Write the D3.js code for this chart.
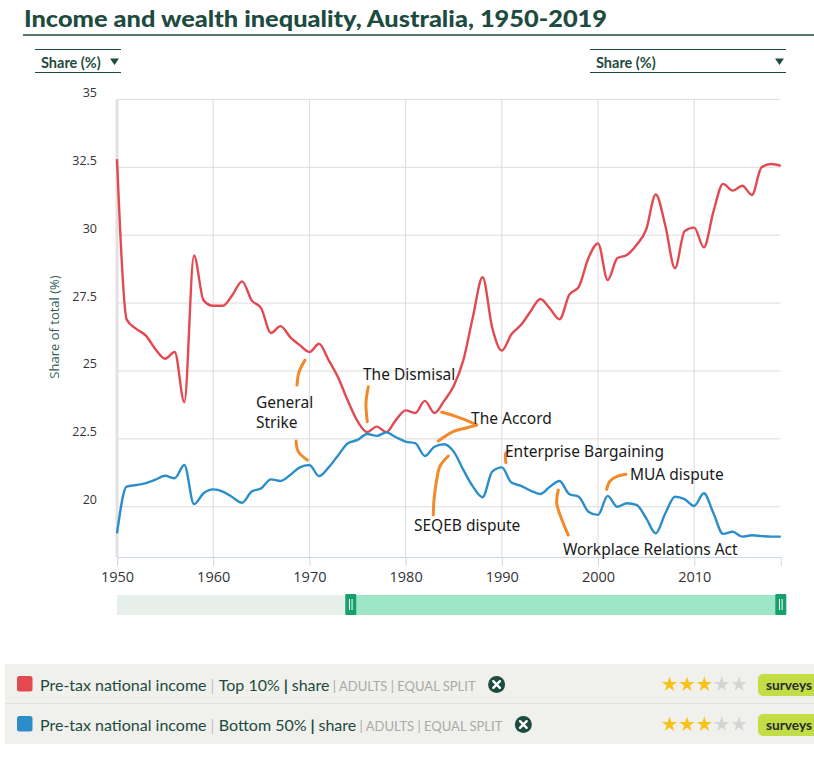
<!DOCTYPE html>
<html><head><meta charset="utf-8">
<script src="https://cdn.jsdelivr.net/npm/d3@7"></script>
<style>body{margin:0;background:#fff;} svg{display:block;}</style>
</head><body><svg id="c" width="814" height="770"></svg>
<script>
// ---------- DATA ----------
const years = d3.range(1950, 2020);
const top10 = [32.8,26.9,26.55,26.3,25.8,25.45,25.7,23.85,29.25,27.6,
  27.4,27.4,27.8,28.3,27.6,27.3,26.4,26.65,26.25,25.95,
  25.7,26.0,25.4,24.75,23.9,23.15,22.75,22.95,22.75,23.2,
  23.55,23.45,23.9,23.45,23.9,24.45,25.4,27.0,28.45,26.6,
  25.75,26.35,26.7,27.2,27.65,27.3,26.9,27.8,28.1,29.15,
  29.7,28.35,29.15,29.27,29.64,30.2,31.5,30.35,28.78,30.15,
  30.28,29.55,30.87,31.89,31.64,31.82,31.48,32.5,32.62,32.55];
const bottom50 = [19.02,20.74,20.8,20.87,21.0,21.14,21.05,21.54,20.1,20.5,
  20.64,20.56,20.35,20.15,20.56,20.68,21.01,20.95,21.17,21.45,
  21.54,21.13,21.45,21.9,22.34,22.46,22.68,22.61,22.74,22.56,
  22.4,22.34,21.87,22.21,22.3,22.03,21.36,20.74,20.35,21.29,
  21.45,20.89,20.77,20.59,20.47,20.74,20.95,20.47,20.37,19.82,
  19.7,20.4,20.0,20.13,20.07,19.58,19.02,19.76,20.37,20.28,
  20.03,20.5,19.76,19.0,19.08,18.9,18.95,18.92,18.9,18.9];
const yTicks = [20, 22.5, 25, 27.5, 30, 32.5, 35];
const xTicks = [1950, 1960, 1970, 1980, 1990, 2000, 2010];
const seriesMain = ["Pre-tax national income", "Pre-tax national income"];
const seriesGroup = ["Top 10%", "Bottom 50%"];
const seriesTail = ["ADULTS", "EQUAL SPLIT"];
const seriesStars = [3, 3];
const titleText = "Income and wealth inequality, Australia, 1950-2019";
const yTitle = "Share of total (%)";
const unitLabel = "Share (%)";
const sliderRange = [1974.3, 2019];
// annotation labels & hand-drawn strokes, in (year, value) units
const annoLabels = [
  {lines:["General","Strike"], year:1964.45, value:23.64},
  {lines:["The Dismisal"], year:1975.57, value:24.67},
  {lines:["The Accord"], year:1986.8, value:23.04},
  {lines:["SEQEB dispute"], year:1980.87, value:19.11},
  {lines:["Enterprise Bargaining"], year:1990.33, value:21.83},
  {lines:["Workplace Relations Act"], year:1996.36, value:18.23},
  {lines:["MUA dispute"], year:2003.33, value:20.99}
];
const annoStrokes = [
  [[1968.71,24.48],[1968.92,24.96],[1969.54,25.40]],
  [[1968.61,22.42],[1968.85,22.03],[1969.78,21.72]],
  [[1976.12,24.42],[1975.88,23.81],[1976.02,23.13]],
  [[1983.75,23.48],[1985.14,23.34],[1986.70,23.13],[1987.39,23.01]],
  [[1983.40,22.42],[1984.93,22.77],[1986.28,22.90],[1987.39,23.01]],
  [[1984.44,21.87],[1983.58,21.50],[1983.23,20.99],[1982.95,20.25],[1982.88,19.70]],
  [[1990.73,22.04],[1990.42,21.98],[1990.42,21.63]],
  [[1995.87,20.62],[1995.71,20.13],[1996.39,19.39],[1996.91,18.96]],
  [[2000.90,20.64],[2001.25,20.95],[2001.98,21.12],[2002.91,21.20]]
];

// ---------- STYLE ----------
const GREEN = "#1e4b40", RED = "#e24950", BLUE = "#2b8ecb", ORANGE = "#f2892a";
const svg = d3.select("#c");
svg.append("rect").attr("width",814).attr("height",770).attr("fill","#fff");

// title
svg.append("text").attr("x",24).attr("y",26.5).text(titleText)
  .attr("font-family","Lato").attr("font-weight",900).attr("font-size",23.5)
  .attr("fill",GREEN).attr("textLength",583).attr("lengthAdjust","spacingAndGlyphs");
svg.append("line").attr("x1",23).attr("x2",814).attr("y1",35).attr("y2",35)
  .attr("stroke",GREEN).attr("stroke-width",1.5);

// dropdowns
function dropdown(x1, x2) {
  const g = svg.append("g");
  [49.5, 72.5].forEach(y => g.append("line").attr("x1",x1).attr("x2",x2).attr("y1",y).attr("y2",y)
    .attr("stroke",GREEN).attr("stroke-width",1));
  g.append("text").attr("x",x1+6).attr("y",68).text(unitLabel)
    .attr("font-family","Lato").attr("font-weight",700).attr("font-size",14.5).attr("fill",GREEN);
  g.append("path").attr("d",`M${x2-11},58.5 L${x2-2},58.5 L${x2-6.5},65 Z`).attr("fill",GREEN);
}
dropdown(35, 121);
dropdown(590, 786);

// scales
const x = d3.scaleLinear().domain([1950, 2019]).range([117, 780.8]);
const y = d3.scaleLinear().domain([18.15, 35]).range([557, 99.4]);

// grid
const grid = svg.append("g");
grid.selectAll(".hg").data(yTicks).join("line")
  .attr("x1",117).attr("x2",780).attr("y1",d=>y(d)).attr("y2",d=>y(d))
  .attr("stroke","#dcdcdc").attr("stroke-width",1);
grid.selectAll(".vg").data(xTicks.slice(1)).join("line")
  .attr("x1",d=>x(d)).attr("x2",d=>x(d)).attr("y1",y(35)).attr("y2",557)
  .attr("stroke","#dcdcdc").attr("stroke-width",1);
grid.append("line").attr("x1",x(1950)).attr("x2",x(1950)).attr("y1",y(35)).attr("y2",557)
  .attr("stroke","#e2e2e2").attr("stroke-width",3);

// y axis labels
svg.append("g").selectAll("text").data(yTicks).join("text")
  .attr("x",97).attr("y",d=>y(d)-2.5).attr("text-anchor","end")
  .attr("font-family","Open Sans").attr("font-size",12.5).attr("fill","#333")
  .text(d=>d3.format("~g")(d));
svg.append("text").attr("transform","translate(59,327) rotate(-90)")
  .attr("text-anchor","middle").attr("font-family","Open Sans").attr("font-size",13)
  .attr("fill","#2f5f58").text(yTitle);

// x axis
const xAxis = d3.axisBottom(x).tickValues(xTicks).tickFormat(d3.format("d")).tickSize(9).tickPadding(6);
const xg = svg.append("g").attr("transform","translate(0,557)").call(xAxis);
xg.select(".domain").attr("stroke","#ccd6eb");
xg.selectAll(".tick line").attr("stroke","#ccd6eb");
xg.selectAll(".tick text").attr("font-family","Open Sans").attr("font-size",14.5).attr("fill","#333");

// lines
const line = d3.line().x((d,i)=>x(years[i])).y(d=>y(d)).curve(d3.curveMonotoneX);
svg.append("path").datum(top10).attr("d",line).attr("fill","none").attr("stroke",RED).attr("stroke-width",2.4);
svg.append("path").datum(bottom50).attr("d",line).attr("fill","none").attr("stroke",BLUE).attr("stroke-width",2.4);

// annotations
const aLine = d3.line().x(d=>x(d[0])).y(d=>y(d[1])).curve(d3.curveCatmullRom);
svg.append("g").selectAll("path").data(annoStrokes).join("path")
  .attr("d",aLine).attr("fill","none").attr("stroke",ORANGE).attr("stroke-width",3)
  .attr("stroke-linecap","round");
const at = svg.append("g").selectAll("text").data(annoLabels).join("text")
  .attr("x",d=>x(d.year)).attr("y",d=>y(d.value))
  .attr("font-family","Noto Sans").attr("font-size",15.5).attr("fill","#1a1a1a");
at.selectAll("tspan").data(d=>d.lines.map((t,i)=>({t,i,x:x(d.year)}))).join("tspan")
  .attr("x",d=>d.x).attr("dy",d=>d.i?20:0).text(d=>d.t);

// navigator slider
const sg = svg.append("g");
sg.append("rect").attr("x",117).attr("y",595).attr("width",785-117).attr("height",20).attr("fill","#e7efeb");
sg.append("rect").attr("x",x(sliderRange[0])).attr("y",595).attr("width",x(sliderRange[1])-x(sliderRange[0])).attr("height",20).attr("fill","#9de6c6");
sliderRange.forEach(v => {
  const cx = x(v);
  sg.append("rect").attr("x",cx-5.5).attr("y",594).attr("width",11).attr("height",21).attr("fill","#16a06c").attr("rx",1);
  sg.append("line").attr("x1",cx-1.3).attr("x2",cx-1.3).attr("y1",599).attr("y2",610).attr("stroke","#fff").attr("stroke-width",1);
  sg.append("line").attr("x1",cx+1.3).attr("x2",cx+1.3).attr("y1",599).attr("y2",610).attr("stroke","#fff").attr("stroke-width",1);
});

// legend panel
const lg = svg.append("g");
lg.append("rect").attr("x",5).attr("y",664).attr("width",809).attr("height",80).attr("fill","#f0f0ec");
lg.append("line").attr("x1",5).attr("x2",814).attr("y1",703.5).attr("y2",703.5).attr("stroke","#e0e0dc");
const colors = [RED, BLUE];
[0,1].forEach(i => {
  const cy = 684 + i*40;
  lg.append("rect").attr("x",17).attr("y",cy-8).attr("width",15.5).attr("height",15.5).attr("rx",2.5).attr("fill",colors[i]);
  const t = lg.append("text").attr("x",40).attr("y",cy+6.5).attr("font-family","Lato").attr("font-size",16).attr("fill",GREEN);
  t.append("tspan").text(seriesMain[i]+" ");
  t.append("tspan").attr("fill","#aaa").attr("font-weight",300).text("| ");
  t.append("tspan").text(seriesGroup[i]);
  t.append("tspan").attr("font-weight",700).text(" | ");
  t.append("tspan").text("share");
  t.append("tspan").attr("fill","#aaa").attr("font-size",13).text(" | "+seriesTail[0]+" | "+seriesTail[1]);
  const w = t.node().getComputedTextLength();
  const cx = 40 + w + 21;
  lg.append("circle").attr("cx",cx).attr("cy",cy+0.5).attr("r",8.5).attr("fill",GREEN);
  lg.append("path").attr("d",`M${cx-3.3},${cy-2.8} L${cx+3.3},${cy+3.8} M${cx+3.3},${cy-2.8} L${cx-3.3},${cy+3.8}`)
    .attr("stroke","#fff").attr("stroke-width",2.4).attr("stroke-linecap","round");
  // stars
  d3.range(5).forEach(k => {
    lg.append("path").attr("d",d3.symbol(d3.symbolStar).size(72)())
      .attr("transform",`translate(${669.5+k*17.4},${cy+0.5})`)
      .attr("fill",k<seriesStars[i]?"#f7c21a":"#d4d4d4");
  });
  lg.append("rect").attr("x",758).attr("y",cy-10).attr("width",80).attr("height",22).attr("rx",5).attr("fill","#c2dd45");
  lg.append("text").attr("x",766).attr("y",cy+5.5).attr("font-family","Lato").attr("font-weight",700)
    .attr("font-size",13.5).attr("fill","#2a2a2a").attr("textLength",46).attr("lengthAdjust","spacingAndGlyphs").text("surveys");
});
</script></body></html>
